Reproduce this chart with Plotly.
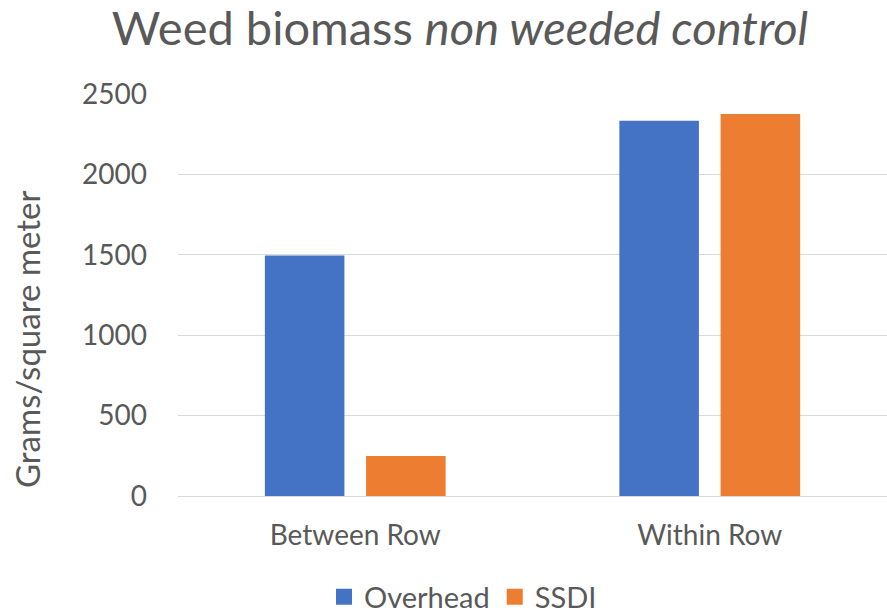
import plotly.graph_objects as go

# Weed biomass in the non-weeded control plots, by sampling position
categories = ["Between Row", "Within Row"]
overhead = [1495, 2333]
ssdi = [249, 2375]
y_ticks = [0, 500, 1000, 1500, 2000, 2500]

W, H = 887, 613
TEXT = "#595959"
FONT = "Lato"
BLUE, ORANGE = "#4472C4", "#ED7D31"

fig = go.Figure()
fig.add_trace(go.Bar(name="Overhead", x=categories, y=overhead, showlegend=False,
                     marker=dict(color=BLUE, line=dict(width=0))))
fig.add_trace(go.Bar(name="SSDI", x=categories, y=ssdi, showlegend=False,
                     marker=dict(color=ORANGE, line=dict(width=0))))
# legend entries with larger square swatches
for name, color in [("Overhead", BLUE), ("SSDI", ORANGE)]:
    fig.add_trace(go.Scatter(name=name, x=[None], y=[None], mode="markers",
                             marker=dict(symbol="square", size=18, color=color),
                             hoverinfo="skip"))

fig.update_layout(
    width=W, height=H,
    margin=dict(l=178, r=0, t=94, b=117),
    paper_bgcolor="white", plot_bgcolor="white",
    font=dict(family=FONT, color=TEXT),
    barmode="group", bargap=0.429, bargroupgap=0.214,
    title=dict(text="Weed biomass <i>non weeded control</i>",
               font=dict(size=47, color=TEXT, family=FONT),
               x=460 / W, xanchor="center", xref="container",
               y=1 - 29 / H, yanchor="middle", yref="container"),
    legend=dict(orientation="h", xref="container", yref="container",
                x=463 / W, xanchor="center", y=1 - 597 / H, yanchor="middle",
                font=dict(size=29, color=TEXT), itemwidth=30,
                itemsizing="trace", traceorder="normal"),
    xaxis=dict(showgrid=False, showline=False, ticks="",
               tickfont=dict(size=28, color=TEXT), ticklabelstandoff=20),
    yaxis=dict(range=[0, 2500], tickvals=y_ticks,
               showgrid=True, gridcolor="#D9D9D9", gridwidth=1.3,
               zeroline=True, zerolinecolor="#D9D9D9", zerolinewidth=1.3,
               showline=False, ticks="",
               tickfont=dict(size=28, color=TEXT), ticklabelstandoff=30),
    annotations=[dict(text="Grams/square meter", textangle=-90,
                      xref="paper", yref="paper", showarrow=False,
                      x=(27 - 178) / (W - 178), y=(496 - 339) / (496 - 94),
                      xanchor="center", yanchor="middle",
                      font=dict(size=33, color=TEXT))],
)

fig.write_html("out.html")
